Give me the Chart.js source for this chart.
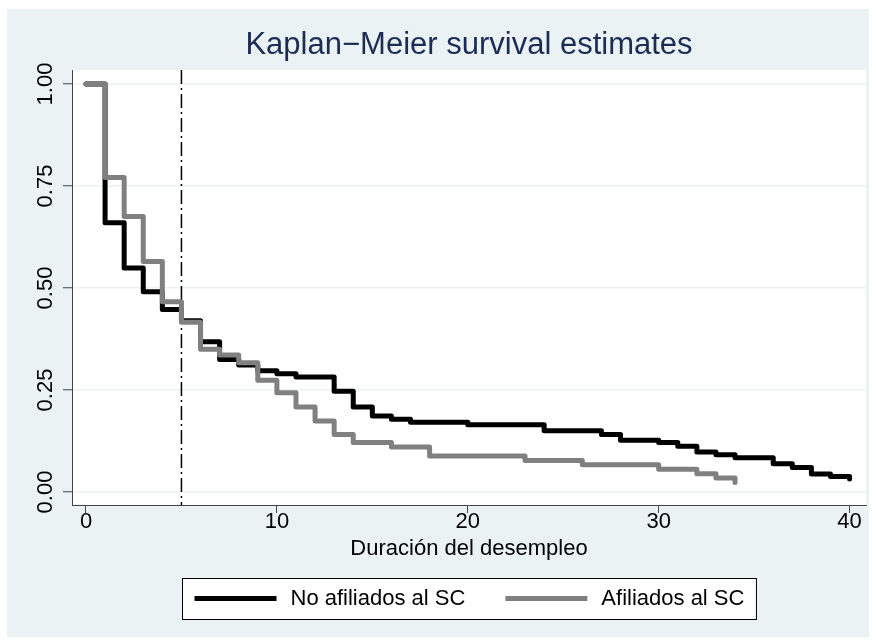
<!DOCTYPE html>
<html>
<head>
<meta charset="utf-8">
<script src="https://cdn.jsdelivr.net/npm/chart.js@4.4.0/dist/chart.umd.min.js"></script>
<style>
  html, body { margin: 0; padding: 0; background: #fff; }
  canvas { display: block; }
</style>
</head>
<body>
<canvas id="km" width="876" height="642"></canvas>
<script>
// tiempos y supervivencia estimada
var tNoAfil = [0, 1, 2, 3, 4, 5, 6, 7, 8, 9, 10, 11, 13, 14, 15, 16, 17, 20, 24, 27, 28, 30, 31, 32, 33, 34, 36, 37, 38, 39, 40];
var sNoAfil = [1.00, 0.66, 0.549, 0.491, 0.447, 0.42, 0.368, 0.325, 0.311, 0.297, 0.290, 0.282, 0.247, 0.208, 0.186, 0.178, 0.171, 0.165, 0.150, 0.141, 0.127, 0.121, 0.112, 0.098, 0.091, 0.084, 0.069, 0.060, 0.044, 0.038, 0.032];
var tAfil = [0, 1, 2, 3, 4, 5, 6, 7, 8, 9, 10, 11, 12, 13, 14, 16, 18, 23, 26, 30, 32, 33, 34];
var sAfil = [1.00, 0.771, 0.675, 0.565, 0.466, 0.416, 0.350, 0.336, 0.317, 0.274, 0.243, 0.208, 0.174, 0.141, 0.121, 0.110, 0.088, 0.077, 0.067, 0.056, 0.045, 0.034, 0.023];
var xTicks = [0, 10, 20, 30, 40];
var yTicks = [0, 0.25, 0.5, 0.75, 1];
var refLine = 5;
var titulo = 'Kaplan\u2212Meier survival estimates';
var tituloX = 'Duración del desempleo';

var fuente = '"Liberation Sans", Arial, Helvetica, sans-serif';
var fondoGris = 'rgb(234,242,243)';

function puntos(t, s) {
  return t.map(function (v, i) { return { x: v, y: s[i] }; });
}

var fondo = {
  id: 'fondo',
  beforeDraw: function (chart) {
    var ctx = chart.ctx, a = chart.chartArea;
    ctx.save();
    ctx.fillStyle = '#fff';
    ctx.fillRect(0, 0, chart.width, chart.height);
    ctx.fillStyle = fondoGris;
    ctx.fillRect(7, 9, 862, 628);
    ctx.fillStyle = '#fff';
    ctx.fillRect(a.left, a.top, a.right - a.left, a.bottom - a.top);
    ctx.restore();
  },
  beforeDatasetsDraw: function (chart) {
    // linea vertical de referencia
    var ctx = chart.ctx, a = chart.chartArea;
    var x = chart.scales.x.getPixelForValue(refLine);
    ctx.save();
    ctx.strokeStyle = '#000';
    ctx.lineWidth = 1.5;
    ctx.setLineDash([14, 4, 2, 4]);
    ctx.beginPath();
    ctx.moveTo(x, a.top);
    ctx.lineTo(x, a.bottom);
    ctx.stroke();
    ctx.restore();
  },
  afterDraw: function (chart) {
    var ctx = chart.ctx, a = chart.chartArea;
    var cx = (a.left + a.right) / 2;
    ctx.save();
    // titulo
    ctx.fillStyle = '#1c2c55';
    ctx.font = '31px ' + fuente;
    ctx.textAlign = 'center';
    ctx.textBaseline = 'middle';
    ctx.fillText(titulo, cx, 45);

    // etiquetas del eje y, giradas
    var ys = chart.scales.y;
    ctx.fillStyle = '#000';
    ctx.font = '22px ' + fuente;
    ys.ticks.forEach(function (t) {
      var py = ys.getPixelForValue(t.value);
      ctx.save();
      ctx.translate(52, py);
      ctx.rotate(-Math.PI / 2);
      ctx.textAlign = 'center';
      ctx.textBaseline = 'alphabetic';
      ctx.fillText(t.value.toFixed(2), 0, 0);
      ctx.restore();
    });

    // leyenda
    var ds = chart.data.datasets;
    var pad = 12, muestra = 82, hueco = 14, entre = 40;
    var anchos = ds.map(function (d) { return ctx.measureText(d.label).width; });
    var total = pad * 2 + entre * (ds.length - 1);
    anchos.forEach(function (w) { total += muestra + hueco + w; });
    var top = a.bottom + 73, alto = 41;
    var left = Math.round(cx - total / 2) + 0.5;
    ctx.fillStyle = '#fff';
    ctx.fillRect(left, top, total, alto);
    ctx.strokeStyle = '#000';
    ctx.lineWidth = 1;
    ctx.strokeRect(left, top + 0.5, total, alto);
    var x = left + pad, ym = top + alto / 2;
    ds.forEach(function (d, i) {
      ctx.strokeStyle = d.borderColor;
      ctx.lineWidth = 5;
      ctx.beginPath();
      ctx.moveTo(x, ym);
      ctx.lineTo(x + muestra, ym);
      ctx.stroke();
      x += muestra + hueco;
      ctx.fillStyle = '#000';
      ctx.textAlign = 'left';
      ctx.textBaseline = 'middle';
      ctx.fillText(d.label, x, ym);
      x += anchos[i] + entre;
    });
    ctx.restore();
  }
};

new Chart(document.getElementById('km'), {
  type: 'line',
  data: {
    datasets: [
      {
        label: 'No afiliados al SC',
        data: puntos(tNoAfil, sNoAfil),
        borderColor: '#000',
        borderWidth: 5,
        stepped: true,
        pointRadius: 0,
        fill: false,
        borderCapStyle: 'round',
        borderJoinStyle: 'round',
        order: 1
      },
      {
        label: 'Afiliados al SC',
        data: puntos(tAfil, sAfil),
        borderColor: '#808080',
        borderWidth: 5,
        stepped: true,
        pointRadius: 0,
        fill: false,
        borderCapStyle: 'round',
        borderJoinStyle: 'round',
        order: 0
      }
    ]
  },
  options: {
    responsive: false,
    animation: false,
    layout: { padding: { left: 0, right: 10, top: 70, bottom: 77 } },
    plugins: {
      legend: { display: false },
      title: { display: false },
      tooltip: { enabled: false }
    },
    scales: {
      x: {
        type: 'linear',
        min: -0.733,
        max: 40.86,
        afterBuildTicks: function (s) { s.ticks = xTicks.map(function (v) { return { value: v }; }); },
        afterFit: function (s) { s.height = 60; },
        grid: { drawOnChartArea: false, tickLength: 8, tickColor: '#444', tickWidth: 1 },
        border: { color: '#444', width: 1 },
        ticks: { font: { size: 22, family: fuente }, color: '#000', padding: -4, maxRotation: 0, autoSkip: false },
        title: { display: true, text: tituloX, font: { size: 22, family: fuente }, color: '#000', padding: { top: 0, bottom: 3 } }
      },
      y: {
        min: -0.0319,
        max: 1.0343,
        afterBuildTicks: function (s) { s.ticks = yTicks.map(function (v) { return { value: v }; }); },
        afterFit: function (s) { s.width = 72; },
        grid: { color: fondoGris, lineWidth: 1.5, tickLength: 9, tickColor: '#444', tickWidth: 1 },
        border: { color: '#444', width: 1 },
        ticks: { display: false }
      }
    }
  },
  plugins: [fondo]
});
</script>
</body>
</html>
